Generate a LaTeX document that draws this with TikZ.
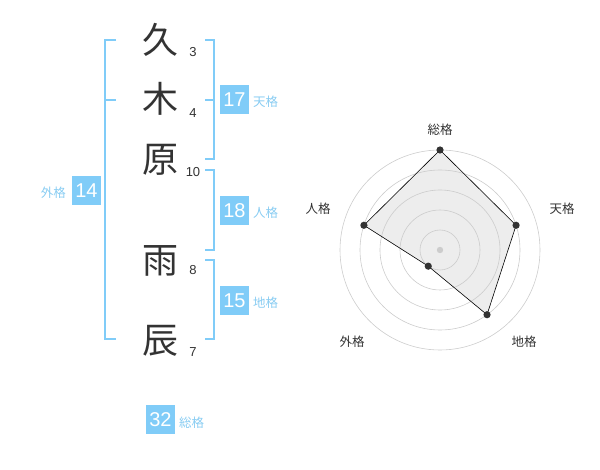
\documentclass[tikz,border=0pt]{standalone}
\usepackage{fontspec}
\setmainfont{Liberation Sans}
\newfontfamily\cjk{Noto Sans CJK JP}
\definecolor{sky}{HTML}{80CCF8}
\definecolor{skytext}{HTML}{88CCF2}
\definecolor{ink}{HTML}{333333}
\definecolor{ring}{HTML}{CCCCCC}

\begin{document}
\begin{tikzpicture}[x=1pt,y=-1pt,
    kanji/.style={inner sep=0pt,text=ink,font=\cjk\fontsize{36}{36}\selectfont},
    stroke/.style={inner sep=0pt,text=ink,font=\fontsize{13}{13}\selectfont},
    score/.style={fill=sky,text=white,minimum size=29pt,inner sep=0pt,font=\fontsize{20}{20}\selectfont},
    kaku/.style={inner sep=0pt,text=skytext,font=\cjk\fontsize{12.5}{12.5}\selectfont},
    axis/.style={inner sep=0pt,text=ink,font=\cjk\fontsize{12.5}{12.5}\selectfont},
    bracket/.style={draw=sky,line width=1.8pt}]
  \useasboundingbox (0,0) rectangle (600,470);

  % name and strokes
  \foreach \k/\s/\y/\sy [count=\i] in {久/3/40/52,木/4/99/113,原/10/160/172,雨/8/261/270,辰/7/341/352}
  {
    \node [kanji] (c\i) at (160,\y) {\k};
    \node [stroke] (s\i) at (193,\sy) {\s};
  }

  % brackets
  \draw [bracket] (116,40) -- (105,40) -- (105,339) -- (116,339);
  \draw [bracket] (105,100) -- (116,100);
  \draw [bracket] (205,40) -- (214,40) -- (214,159) -- (205,159);
  \draw [bracket] (205,100) -- (214,100);
  \draw [bracket] (205,170) -- (214,170) -- (214,250) -- (205,250);
  \draw [bracket] (205,260) -- (214,260) -- (214,339) -- (205,339);

  % scores
  \node [score] (ten) at (234.5,100) {17};
  \node [kaku,anchor=west] (tenl) at (253,102) {天格};
  \node [score] (jin) at (234.5,210.5) {18};
  \node [kaku,anchor=west] (jinl) at (253,213) {人格};
  \node [score] (chi) at (234.5,300.5) {15};
  \node [kaku,anchor=west] (chil) at (253,303) {地格};
  \node [score] (gai) at (86.5,190.5) {14};
  \node [kaku,anchor=east] (gail) at (66,193) {外格};
  \node [score] (sou) at (160.5,419.5) {32};
  \node [kaku,anchor=west] (soul) at (179,423) {総格};

  % radar
  \begin{scope}[shift={(440,250)}]
    \foreach \a/\v [count=\i] in {-90/5,-18/4,54/4,126/1,198/4}
      \coordinate (p\i) at (\a:20*\v);
    \fill [black!7] (p1) -- (p2) -- (p3) -- (p4) -- (p5) -- cycle;
    \foreach \r in {20,40,...,100}
      \draw [ring,line width=0.6pt] (0,0) circle [radius=\r];
    \fill [ring] (0,0) circle [radius=3.2];
    \draw [black,line width=0.6pt] (p1) -- (p2) -- (p3) -- (p4) -- (p5) -- cycle;
    \foreach \i in {1,...,5}
      \fill [ink] (p\i) circle [radius=3.6];
  \end{scope}
  \node [axis] (a1) at (440,130) {総格};
  \node [axis] (a2) at (562,209) {天格};
  \node [axis] (a3) at (524,342) {地格};
  \node [axis] (a4) at (352,342) {外格};
  \node [axis] (a5) at (318,209) {人格};
\end{tikzpicture}
\end{document}
